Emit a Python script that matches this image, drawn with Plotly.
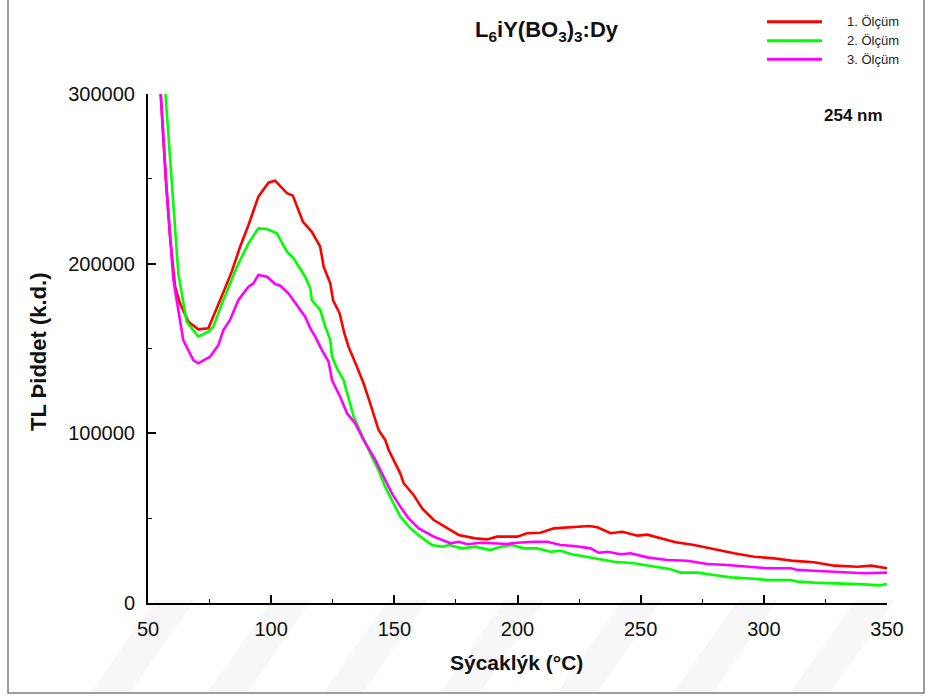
import plotly.graph_objects as go

# ---- data ----
T_red = [55.0, 57.2, 59.0, 61.0, 63.0, 66.4, 70.4, 74.5, 79.3, 84.0, 87.4, 90.8, 94.8, 98.9, 101.6,
         106.4, 108.8, 112.9, 116.5, 119.9, 121.3, 124.0, 125.1, 127.8, 129.7, 131.4, 134.8, 137.5,
         140.2, 143.6, 146.3, 147.7, 152.4, 153.8, 157.8, 161.3, 166.0, 171.4, 176.1, 182.9, 187.7,
         191.7, 199.9, 203.9, 209.3, 214.8, 221.5, 229.0, 232.4, 237.8, 242.6, 248.7, 252.7, 258.1,
         264.2, 271.7, 279.8, 287.9, 296.1, 304.2, 312.3, 320.4, 328.6, 338.1, 343.5, 350.0]
I_red = [304000, 250000, 215000, 186400, 176600, 165800, 161300, 161900, 178600, 195300, 210000,
         222800, 239500, 247700, 248900, 241500, 240100, 224700, 218800, 210000, 198200, 188400,
         178600, 170700, 159000, 151100, 139300, 129500, 117700, 102000, 96100, 90200, 76400, 70600,
         63700, 55800, 48900, 44000, 40100, 38100, 37500, 39100, 39100, 41100, 41400, 44000, 44600,
         45400, 44600, 41100, 42000, 39700, 40300, 38100, 35800, 34200, 31700, 29300, 27300, 26300,
         24800, 24000, 22000, 21400, 22000, 20500]

T_green = [56.9, 59.6, 62.3, 65.7, 70.4, 74.5, 76.5, 80.6, 86.1, 90.8, 94.8, 98.3, 102.3, 106.4,
           109.1, 113.8, 115.9, 116.5, 119.9, 122.0, 124.0, 124.7, 126.7, 129.4, 131.4, 133.5, 136.2,
           138.9, 141.1, 143.5, 146.3, 149.6, 152.4, 156.5, 160.6, 165.3, 169.4, 172.1, 177.5, 182.9,
           189.0, 193.1, 197.8, 202.6, 208.0, 213.4, 217.5, 221.5, 228.3, 233.7, 239.2, 247.3, 255.4,
           262.2, 266.3, 273.0, 279.8, 286.6, 293.4, 301.5, 311.0, 313.7, 320.4, 329.9, 340.8, 346.9,
           350.0]
I_green = [304000, 249300, 194300, 165800, 157000, 159900, 162900, 178600, 198200, 212000, 220800,
           220400, 217900, 207100, 203200, 192300, 185500, 178600, 172700, 162900, 155000, 145200,
           138300, 131400, 121600, 109800, 101000, 92100, 85500, 78400, 68400, 58900, 50900, 44000,
           39100, 34200, 33200, 34200, 32200, 33200, 31200, 33200, 34200, 32200, 32200, 30200, 30800,
           28900, 27300, 26000, 24300, 23400, 21400, 19900, 17900, 17900, 16500, 15100, 14600, 13600,
           13600, 12600, 12000, 11600, 11000, 10400, 11200]

T_mag = [55.0, 57.6, 60.3, 64.3, 68.4, 70.4, 75.2, 78.6, 80.6, 83.3, 86.7, 90.8, 92.8, 94.8, 98.3,
         101.6, 103.7, 107.0, 110.4, 113.8, 115.9, 117.9, 120.6, 123.3, 124.7, 128.0, 130.8, 134.1,
         137.5, 139.6, 142.3, 146.3, 149.2, 152.4, 155.8, 159.9, 166.0, 172.8, 176.1, 179.6, 185.0,
         189.7, 195.8, 199.9, 206.6, 212.1, 217.5, 222.9, 229.7, 233.0, 236.5, 241.9, 245.9, 252.7,
         260.8, 268.9, 277.1, 285.2, 293.4, 301.5, 311.0, 313.7, 320.4, 328.6, 340.8, 350.0]
I_mag = [304000, 243400, 190400, 155000, 143200, 141300, 145200, 152100, 160900, 166800, 178600,
         186400, 188400, 193300, 192300, 188000, 187000, 182500, 175600, 168700, 161900, 157000,
         149100, 142200, 131400, 121600, 111800, 105900, 96100, 91200, 84300, 72500, 64200, 56800,
         49900, 44000, 39100, 35200, 36100, 34600, 35500, 35200, 34800, 35500, 36100, 36100, 34200,
         33600, 32200, 29600, 30200, 28700, 29300, 26900, 25300, 24900, 23000, 22400, 21400, 20500,
         20500, 19500, 19000, 18400, 17500, 17900]

series_names = ["1. Ölçüm", "2. Ölçüm", "3. Ölçüm"]
series_colors = ["#ff0000", "#00ff00", "#ff00ff"]
x_tickvals = [50, 100, 150, 200, 250, 300, 350]
y_tickvals = [0, 100000, 200000, 300000]

FONT = "Liberation Sans, Arial, sans-serif"

# plot-area geometry in pixels (for decorations)
L, R, TOP, BOT = 148, 887, 94, 603
W, H = 926, 697


def px_x(px):
    return (px - L) / (R - L)


def px_y(py):
    return (BOT - py) / (BOT - TOP)


fig = go.Figure()
for T, I, name, col in zip([T_red, T_green, T_mag], [I_red, I_green, I_mag], series_names, series_colors):
    fig.add_trace(go.Scatter(x=T, y=I, mode="lines", name=name, showlegend=False,
                             line=dict(color=col, width=2.6)))

shapes = []
annotations = []

# watermark stripes (faint)
for top_x in [165, 282, 398, 515, 632, 748, 865]:
    shapes.append(dict(type="path", xref="paper", yref="paper", layer="below",
                       path="M {} {} L {} {} L {} {} L {} {} Z".format(
                           px_x(top_x - 75), px_y(693), px_x(top_x - 35), px_y(693),
                           px_x(top_x + 30), px_y(600), px_x(top_x - 10), px_y(600)),
                       fillcolor="rgba(0,0,0,0.03)", line=dict(width=0)))

# outer frame
shapes.append(dict(type="rect", xref="paper", yref="paper", layer="above",
                   x0=px_x(8), x1=px_x(924), y0=px_y(693), y1=px_y(-5),
                   line=dict(color="#7f7f7f", width=1.5), fillcolor="rgba(0,0,0,0)"))

# custom legend
leg_y = [21.7, 40.7, 59.3]
for name, col, yy in zip(series_names, series_colors, leg_y):
    shapes.append(dict(type="line", xref="paper", yref="paper", x0=px_x(767), x1=px_x(822),
                       y0=px_y(yy), y1=px_y(yy), line=dict(color=col, width=3)))
    annotations.append(dict(xref="paper", yref="paper", x=px_x(845), y=px_y(yy), text=name,
                            showarrow=False, xanchor="left", yanchor="middle",
                            font=dict(family=FONT, size=13, color="#222")))

# title
annotations.append(dict(xref="paper", yref="paper", x=px_x(547), y=px_y(31),
                        text="<b>L<sub>6</sub>iY(BO<sub>3</sub>)<sub>3</sub>:Dy</b>",
                        showarrow=False, xanchor="center", yanchor="middle",
                        font=dict(family=FONT, size=22, color="#111")))
# 254 nm
annotations.append(dict(xref="paper", yref="paper", x=px_x(853), y=px_y(115.5),
                        text="<b>254 nm</b>", showarrow=False, xanchor="center", yanchor="middle",
                        font=dict(family=FONT, size=17, color="#111")))
# axis titles
annotations.append(dict(xref="paper", yref="paper", x=px_x(38), y=px_y(352),
                        text="<b>TL Þiddet (k.d.)</b>", showarrow=False, textangle=-90,
                        xanchor="center", yanchor="middle",
                        font=dict(family=FONT, size=22, color="#111")))
annotations.append(dict(xref="paper", yref="paper", x=px_x(516), y=px_y(662),
                        text="<b>Sýcaklýk (°C)</b>", showarrow=False,
                        xanchor="center", yanchor="middle",
                        font=dict(family=FONT, size=21, color="#111")))

fig.update_layout(
    width=W, height=H,
    margin=dict(l=L, r=W - R, t=TOP, b=H - BOT, pad=0),
    paper_bgcolor="white", plot_bgcolor="rgba(0,0,0,0)",
    shapes=shapes, annotations=annotations, showlegend=False,
    font=dict(family=FONT, size=20, color="#111"),
)
fig.update_xaxes(range=[50, 350], tickvals=x_tickvals, ticks="inside", ticklen=8, tickwidth=1.5,
                 tickcolor="black", showline=True, linecolor="black", linewidth=2, showgrid=False,
                 zeroline=False, ticklabelstandoff=7,
                 minor=dict(ticks="inside", ticklen=4, tickwidth=1, tickcolor="black", dtick=25,
                            tick0=50, showgrid=False),
                 tickfont=dict(family=FONT, size=20, color="#111"))
fig.update_yaxes(range=[0, 300000], tickvals=y_tickvals, tickformat="d", ticks="inside", ticklen=8,
                 tickwidth=1.5, tickcolor="black", showline=True, linecolor="black", linewidth=2,
                 showgrid=False, zeroline=False, ticklabelstandoff=7,
                 minor=dict(ticks="inside", ticklen=4, tickwidth=1, tickcolor="black", dtick=50000,
                            tick0=0, showgrid=False),
                 tickfont=dict(family=FONT, size=20, color="#111"))

fig.write_html("out.html")
